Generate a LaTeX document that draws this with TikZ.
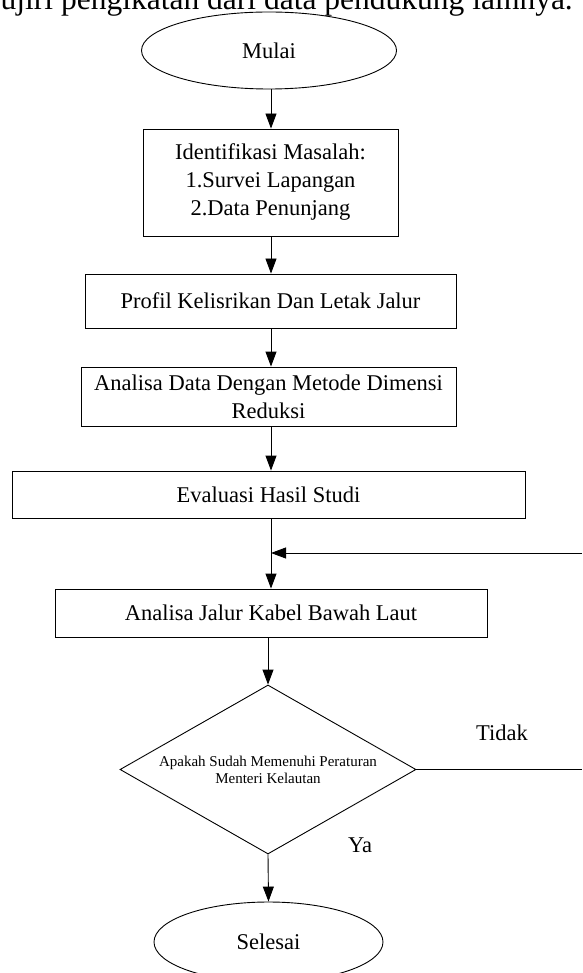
\documentclass[tikz,border=0pt]{standalone}
\usepackage{fontspec}
\setmainfont{Liberation Serif}
\usetikzlibrary{shapes.geometric,arrows.meta}
\begin{document}
\begin{tikzpicture}[x=1pt,y=-1pt,
  every node/.style={font=\fontsize{22.5}{28}\selectfont},
  box/.style={draw,rectangle,line width=0.9pt,inner sep=0pt,align=center},
  term/.style={draw,ellipse,line width=0.9pt,inner sep=0pt},
  decide/.style={draw,diamond,shape aspect=1.75,line width=0.9pt,inner sep=0pt,align=center},
  flow/.style={line width=0.9pt,-{Triangle[length=15pt,width=11pt]}},
  plain/.style={line width=0.9pt}]
\useasboundingbox (0,0) rectangle (582,973);
\clip (0,0) rectangle (582,973);

\node[anchor=base west,inner sep=0pt,font=\fontsize{31.5}{36}\selectfont] (toptext) at (0.5,10) {ujiri pengikatan dari data pendukung lainnya.};

\node[term,minimum width=255pt,minimum height=77pt] (mulai) at (269,50.5) {Mulai};
\node[box,minimum width=255pt,minimum height=107pt] (ident) at (270.5,182.5) {Identifikasi Masalah:\\1.Survei Lapangan\\2.Data Penunjang};
\node[box,minimum width=371pt,minimum height=54pt] (profil) at (270.5,301) {Profil Kelisrikan Dan Letak Jalur};
\node[box,minimum width=375pt,minimum height=59pt] (anadata) at (268.5,396.5) {Analisa Data Dengan Metode Dimensi\\Reduksi};
\node[box,minimum width=513pt,minimum height=47pt] (eval) at (268.5,494.5) {Evaluasi Hasil Studi};
\node[box,minimum width=432pt,minimum height=48pt] (jalur) at (271,613) {Analisa Jalur Kabel Bawah Laut};
\node[decide,minimum width=296pt,minimum height=169pt,font=\fontsize{15}{17}\selectfont] (cek) at (268,769.5) {Apakah Sudah Memenuhi Peraturan\\Menteri Kelautan};
\node[term,minimum width=229pt,minimum height=80pt] (selesai) at (268.5,942) {Selesai};

\node (tidak) at (502,733) {Tidak};
\node (ya) at (360,845) {Ya};

\coordinate (rtop) at (582,553);
\coordinate (rbot) at (582,769.5);
\coordinate (join) at (271,553);

\draw[flow] (mulai.south -| 271,0) -- (ident.north -| 271,0);
\draw[flow] (ident.south -| 271,0) -- (profil.north -| 271,0);
\draw[flow] (profil.south -| 271,0) -- (anadata.north -| 271,0);
\draw[flow] (anadata.south -| 271,0) -- (eval.north -| 271,0);
\draw[flow] (eval.south -| 271,0) -- (jalur.north -| 271,0);
\draw[flow] (rtop) -- (join);
\draw[flow] (jalur.south -| cek.north) -- (cek.north);
\draw[plain] (cek.east) -- (rbot);
\draw[flow] (cek.south) -- (selesai.north);
\end{tikzpicture}
\end{document}
